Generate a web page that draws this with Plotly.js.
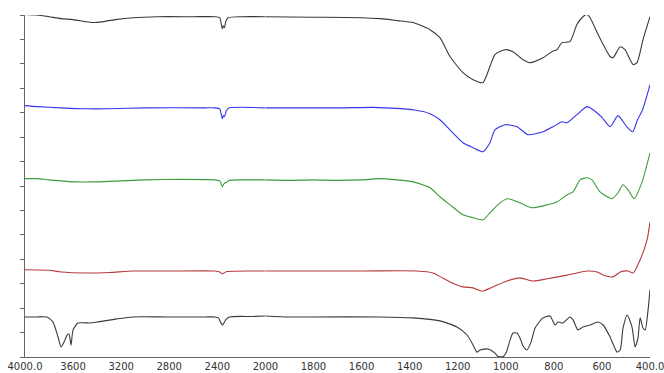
<!DOCTYPE html>
<html>
<head>
<meta charset="utf-8">
<script src="https://cdn.plot.ly/plotly-3.0.1.min.js"></script>
<style>html,body{margin:0;padding:0;background:#fff;}#chart{width:664px;height:373px;}</style>
</head>
<body>
<div id="chart"></div>
<script>
// Wavenumbers (cm-1) and offset transmittance values for each spectrum (top to bottom)
const wnA = [4000,3900,3800,3700,3600,3500,3430,3350,3250,3100,2900,2600,2420,2380,2365,2358,2350,2340,2330,2310,2200,2000,1800,1600,1523,1450,1386,1315,1274,1232,1178,1136,1095,1066,1045,1003,970,928,899,845,808,787,766,733,704,679,662,649,620,599,566,554,524,504,470,454,429,400];
const valA = [14.02,14.00,13.93,13.85,13.81,13.73,13.69,13.73,13.81,13.89,13.93,13.93,13.93,13.89,13.56,13.44,13.56,13.48,13.73,13.89,13.93,13.93,13.91,13.89,13.85,13.77,13.69,13.40,13.07,12.30,11.64,11.35,11.23,11.89,12.38,12.58,12.50,12.17,12.05,12.25,12.50,12.58,12.87,12.91,13.61,13.93,14.02,13.89,13.28,12.87,12.30,12.25,12.70,12.58,11.97,12.05,12.99,13.93];

const wnB = [4000,3900,3700,3500,3300,3000,2500,2420,2380,2365,2358,2350,2340,2325,2300,2000,1700,1550,1500,1386,1315,1274,1232,1178,1136,1095,1066,1045,1003,953,908,845,803,766,745,704,662,637,599,566,533,497,472,452,431,400];
const valB = [10.29,10.25,10.20,10.16,10.16,10.20,10.20,10.20,10.16,9.88,9.75,9.88,9.84,10.08,10.20,10.20,10.20,10.22,10.20,10.12,9.96,9.71,9.30,8.77,8.57,8.40,8.77,9.30,9.51,9.43,9.10,9.22,9.43,9.63,9.59,9.92,10.25,10.12,9.80,9.43,9.88,9.43,9.22,9.71,10.12,11.15];

const wnC = [4000,3900,3800,3700,3600,3400,3200,3000,2700,2420,2380,2365,2358,2345,2320,2300,2200,2000,1900,1800,1700,1600,1523,1386,1315,1274,1232,1178,1136,1095,1066,1024,991,941,891,828,787,745,720,691,662,641,608,558,533,512,491,466,433,400];
const valC = [7.30,7.30,7.25,7.21,7.17,7.17,7.21,7.25,7.27,7.25,7.21,7.05,6.97,7.09,7.17,7.23,7.25,7.25,7.23,7.25,7.23,7.25,7.30,7.17,6.93,6.56,6.23,5.82,5.70,5.61,5.90,6.31,6.48,6.31,6.11,6.23,6.35,6.64,6.76,7.25,7.34,7.25,6.76,6.48,6.72,7.05,6.84,6.48,7.17,8.36];

const wnD = [4000,3800,3700,3500,3300,3100,2800,2420,2380,2360,2345,2320,2000,1600,1370,1303,1232,1178,1136,1099,1053,995,941,887,828,762,704,662,620,595,554,524,491,470,441,412,400];
const valD = [3.57,3.55,3.48,3.44,3.46,3.52,3.52,3.52,3.48,3.40,3.44,3.50,3.52,3.52,3.52,3.44,3.07,2.87,2.83,2.70,2.87,3.11,3.24,3.11,3.20,3.32,3.44,3.52,3.48,3.36,3.28,3.48,3.52,3.44,3.98,4.80,5.53];

const wnE = [4000,3900,3817,3767,3725,3700,3675,3650,3634,3617,3600,3559,3459,3401,3235,3101,2819,2500,2420,2390,2370,2358,2345,2330,2300,2100,2000,1900,1800,1523,1386,1274,1203,1161,1136,1120,1107,1074,1045,1032,1011,999,982,970,953,941,928,912,895,878,845,816,795,783,762,733,720,700,679,649,616,595,566,537,524,512,495,475,462,450,441,429,420,408,400];
const valE = [1.64,1.64,1.64,1.43,0.82,0.41,0.61,0.90,0.94,0.49,1.11,1.39,1.39,1.43,1.56,1.64,1.64,1.64,1.64,1.60,1.39,1.31,1.39,1.52,1.64,1.66,1.68,1.64,1.64,1.64,1.60,1.48,1.23,0.90,0.49,0.20,0.29,0.33,0.16,0.02,0.02,0.16,0.70,0.98,0.98,0.78,0.45,0.29,0.61,1.19,1.60,1.68,1.31,1.43,1.39,1.64,1.52,1.11,1.23,1.31,1.43,1.31,0.82,0.20,0.29,1.19,1.72,1.23,0.41,0.78,1.60,1.19,1.11,1.93,2.75];

const series = [
  {wn: wnA, v: valA, color: '#3a3a3a'},
  {wn: wnB, v: valB, color: '#3535f0'},
  {wn: wnC, v: valC, color: '#3c9c3c'},
  {wn: wnD, v: valD, color: '#b83a3a'},
  {wn: wnE, v: valE, color: '#3a3a3a'}
];

const highTicks = [4000,3600,3200,2800,2400,2000];
const highText = ['4000.0','3600','3200','2800','2400','2000'];
const lowTicks = [1800,1600,1400,1200,1000,800,600,400];
const lowText = ['1800','1600','1400','1200','1000','800','600','400.0'];

const traces = [];
series.forEach(s => {
  const hx = [], hy = [], lx = [], ly = [];
  s.wn.forEach((w, i) => {
    if (w >= 2000) { hx.push(w); hy.push(s.v[i]); }
    if (w <= 2000) { lx.push(w); ly.push(s.v[i]); }
  });
  const line = {color: s.color, width: 1.1, shape: 'spline', smoothing: 0.6};
  traces.push({x: hx, y: hy, xaxis: 'x', yaxis: 'y', mode: 'lines', line: line, hoverinfo: 'skip'});
  traces.push({x: lx, y: ly, xaxis: 'x2', yaxis: 'y', mode: 'lines', line: line, hoverinfo: 'skip'});
});

const axCommon = {
  showgrid: false, zeroline: false, showline: true, linecolor: '#666', linewidth: 1,
  ticks: '', anchor: 'y',
  tickfont: {family: 'DejaVu Sans', size: 10, color: '#333'}, tickmode: 'array',
  ticklabeloverflow: 'allow'
};
const split = 5 / 13;

const layout = {
  width: 664, height: 373,
  margin: {l: 25, r: 14, t: 15, b: 16},
  paper_bgcolor: '#fff', plot_bgcolor: '#fff',
  showlegend: false,
  xaxis: Object.assign({}, axCommon, {domain: [0, split], range: [4000, 2000], tickvals: highTicks, ticktext: highText}),
  xaxis2: Object.assign({}, axCommon, {domain: [split, 1], range: [2000, 400], tickvals: lowTicks, ticktext: lowText}),
  yaxis: {range: [0, 14], showgrid: false, zeroline: false, showline: true, linecolor: '#666', linewidth: 1,
          ticks: 'outside', ticklen: 4, tickcolor: '#666', tickmode: 'array',
          tickvals: [0,1,2,3,4,5,6,7,8,9,10,11,12,13,14], showticklabels: false}
};

Plotly.newPlot('chart', traces, layout, {staticPlot: true, displayModeBar: false});
</script>
</body>
</html>
